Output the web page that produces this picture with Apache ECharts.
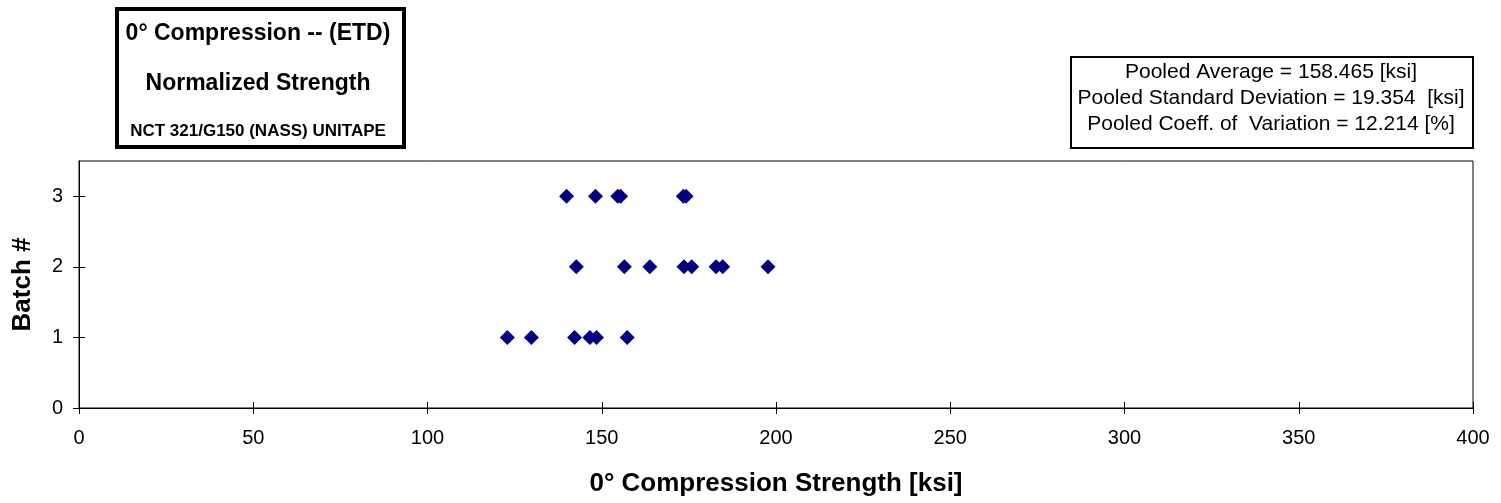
<!DOCTYPE html>
<html>
<head>
<meta charset="utf-8">
<script src="https://cdn.jsdelivr.net/npm/echarts@6/dist/echarts.min.js"></script>
<style>
html,body{margin:0;padding:0;background:#fff;}
#chart{width:1501px;height:503px;}
</style>
</head>
<body>
<div id="chart"></div>
<script>
// Data
const batch1 = [122.9, 129.8, 142.2, 146.6, 148.5, 157.3];
const batch2 = [142.7, 156.5, 163.8, 173.6, 175.8, 182.8, 184.7, 197.7];
const batch3 = [139.9, 148.2, 154.6, 155.4, 173.4, 174.2];
const batchIds = [1, 2, 3];
const xTicks = [0, 50, 100, 150, 200, 250, 300, 350, 400];
const yTicks = [0, 1, 2, 3];
const titleLines = ['0° Compression -- (ETD)', 'Normalized Strength', 'NCT 321/G150 (NASS) UNITAPE'];
const statLines = ['Pooled Average = 158.465 [ksi]', 'Pooled Standard Deviation = 19.354  [ksi]', 'Pooled Coeff. of  Variation = 12.214 [%]'];

const batches = [batch1, batch2, batch3];
const points = [];
batches.forEach((arr, i) => arr.forEach(v => points.push([v, batchIds[i]])));

const FONT = '"Liberation Sans", Arial, sans-serif';
const chart = echarts.init(document.getElementById('chart'), null, {renderer: 'canvas'});

const gridL = 79, gridR = 28, gridT = 161, gridB = 95;

const baseX = {
  type: 'value', min: xTicks[0], max: xTicks[xTicks.length - 1], interval: 50,
  gridIndex: 0, position: 'bottom',
  splitLine: {show: false},
  axisLine: {show: true, onZero: false, lineStyle: {color: '#000', width: 1}}
};
const baseY = {
  type: 'value', min: 0, max: 3.5, interval: 1,
  gridIndex: 0, position: 'left',
  splitLine: {show: false},
  axisLine: {show: true, onZero: false, lineStyle: {color: '#000', width: 1}}
};

chart.setOption({
  animation: false,
  backgroundColor: '#fff',
  grid: {left: gridL, right: gridR, top: gridT, bottom: gridB, show: true, borderColor: '#000', borderWidth: 1, containLabel: false},
  xAxis: [
    Object.assign({}, baseX, {
      name: '0° Compression Strength [ksi]', nameLocation: 'middle', nameGap: 63,
      nameTextStyle: {fontFamily: FONT, fontSize: 26, fontWeight: 'bold', color: '#000'},
      axisTick: {show: true, inside: false, length: 6, lineStyle: {color: '#000'}},
      axisLabel: {show: true, margin: 20, fontFamily: FONT, fontSize: 20, color: '#000'}
    }),
    Object.assign({}, baseX, {
      axisTick: {show: true, inside: true, length: 6, lineStyle: {color: '#000'}},
      axisLabel: {show: false}
    })
  ],
  yAxis: [
    Object.assign({}, baseY, {
      name: 'Batch #', nameLocation: 'middle', nameGap: 43, nameRotate: 90,
      nameTextStyle: {fontFamily: FONT, fontSize: 26, fontWeight: 'bold', color: '#000'},
      axisTick: {show: true, inside: false, length: 6, customValues: yTicks, lineStyle: {color: '#000'}},
      axisLabel: {show: true, margin: 16, customValues: yTicks, fontFamily: FONT, fontSize: 20, color: '#000'}
    }),
    Object.assign({}, baseY, {
      axisTick: {show: true, inside: true, length: 6, customValues: yTicks, lineStyle: {color: '#000'}},
      axisLabel: {show: false}
    })
  ],
  series: [{
    type: 'scatter',
    xAxisIndex: 0, yAxisIndex: 0,
    symbol: 'diamond', symbolSize: 15,
    itemStyle: {color: '#000080', opacity: 1},
    data: points
  }],
  graphic: [
    {type: 'rect', left: 115, top: 7, shape: {width: 287, height: 138}, style: {fill: '#fff', stroke: '#000', lineWidth: 4}},
    {type: 'text', x: 258, y: 34, style: {text: titleLines[0], font: 'bold 23px ' + FONT, fill: '#000', textAlign: 'center', textVerticalAlign: 'middle'}},
    {type: 'text', x: 258, y: 84, style: {text: titleLines[1], font: 'bold 23px ' + FONT, fill: '#000', textAlign: 'center', textVerticalAlign: 'middle'}},
    {type: 'text', x: 258, y: 131, style: {text: titleLines[2], font: 'bold 17px ' + FONT, fill: '#000', textAlign: 'center', textVerticalAlign: 'middle'}},
    {type: 'rect', left: 1070, top: 56, shape: {width: 402, height: 91}, style: {fill: '#fff', stroke: '#000', lineWidth: 2}},
    {type: 'text', x: 1271, y: 72, style: {text: statLines[0], font: '21px ' + FONT, fill: '#000', textAlign: 'center', textVerticalAlign: 'middle'}},
    {type: 'text', x: 1271, y: 98, style: {text: statLines[1], font: '21px ' + FONT, fill: '#000', textAlign: 'center', textVerticalAlign: 'middle'}},
    {type: 'text', x: 1271, y: 124, style: {text: statLines[2], font: '21px ' + FONT, fill: '#000', textAlign: 'center', textVerticalAlign: 'middle'}}
  ]
});
</script>
</body>
</html>
